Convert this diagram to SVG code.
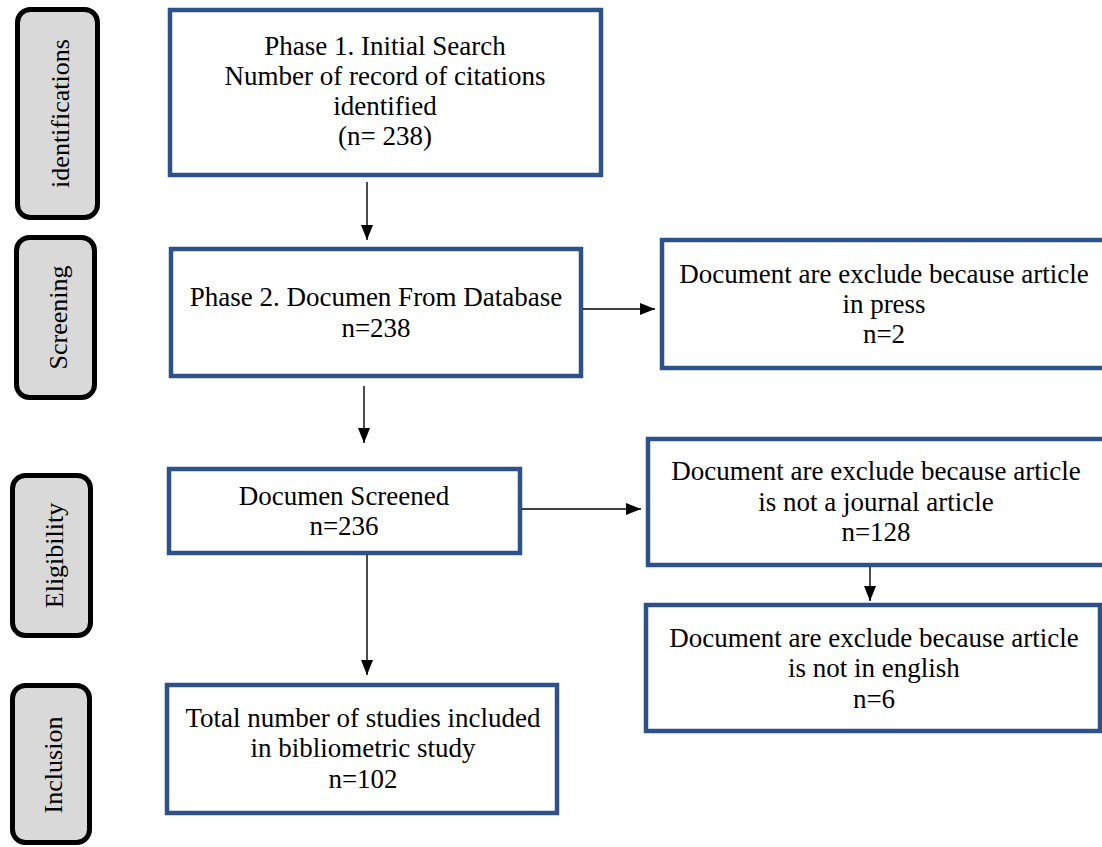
<svg xmlns="http://www.w3.org/2000/svg" width="1102" height="847" viewBox="0 0 1102 847">
<style>
  .tab { fill: #d9d9d9; stroke: #000; stroke-width: 5; }
  .box { fill: #fff; stroke: #2d5289; stroke-width: 4.5; }
  text { font-family: "Liberation Serif", "Times New Roman", serif; font-size: 27px; fill: #000; text-anchor: middle; }
  .tab-label { font-size: 26px; }
  .conn { stroke: #000; stroke-width: 1.4; fill: none; }
</style>
<defs>
  <marker id="arr" markerUnits="userSpaceOnUse" markerWidth="16" markerHeight="16" viewBox="0 0 16 16" refX="15" refY="8" orient="auto">
    <path d="M0,2 L15,8 L0,14 Z" fill="#000"/>
  </marker>
</defs>
<rect width="1102" height="847" fill="#fff"/>

<g id="tab-identifications">
  <rect class="tab" x="17.5" y="9.5" width="80" height="208" rx="13"/>
  <text class="tab-label" transform="translate(69,113.5) rotate(-90)">identifications</text>
</g>
<g id="tab-screening">
  <rect class="tab" x="16.5" y="237.5" width="78" height="160" rx="13"/>
  <text class="tab-label" transform="translate(67,317.5) rotate(-90)">Screening</text>
</g>
<g id="tab-eligibility">
  <rect class="tab" x="12.5" y="475.5" width="78" height="160" rx="13"/>
  <text class="tab-label" transform="translate(63,555.5) rotate(-90)">Eligibility</text>
</g>
<g id="tab-inclusion">
  <rect class="tab" x="12.5" y="685.5" width="77" height="157" rx="13"/>
  <text class="tab-label" transform="translate(62,765) rotate(-90)">Inclusion</text>
</g>

<g id="phase1">
  <rect class="box" x="170" y="10" width="431" height="165"/>
  <text x="385" y="55">Phase 1. Initial Search</text>
  <text x="385" y="85">Number of record of citations</text>
  <text x="385" y="115">identified</text>
  <text x="385" y="145">(n= 238)</text>
</g>
<g id="phase2">
  <rect class="box" x="171" y="249" width="410" height="127"/>
  <text x="376" y="306">Phase 2. Documen From Database</text>
  <text x="376" y="337">n=238</text>
</g>
<g id="screened">
  <rect class="box" x="169" y="469" width="351" height="84"/>
  <text x="344" y="505">Documen Screened</text>
  <text x="344" y="535">n=236</text>
</g>
<g id="included">
  <rect class="box" x="167" y="685" width="390" height="128"/>
  <text x="363" y="727">Total number of studies included</text>
  <text x="363" y="757">in bibliometric study</text>
  <text x="363" y="788">n=102</text>
</g>
<g id="excl-press">
  <rect class="box" x="662" y="240" width="450" height="128"/>
  <text x="884" y="283">Document are exclude because article</text>
  <text x="884" y="313">in press</text>
  <text x="884" y="343">n=2</text>
</g>
<g id="excl-journal">
  <rect class="box" x="648" y="439" width="460" height="126"/>
  <text x="876" y="480">Document are exclude because article</text>
  <text x="876" y="511">is not a journal article</text>
  <text x="876" y="541">n=128</text>
</g>
<g id="excl-english">
  <rect class="box" x="646" y="605" width="454" height="126"/>
  <text x="874" y="647">Document are exclude because article</text>
  <text x="874" y="677">is not in english</text>
  <text x="874" y="708">n=6</text>
</g>

<g id="connectors">
  <line class="conn" x1="367" y1="182" x2="367" y2="240" marker-end="url(#arr)"/>
  <line class="conn" x1="364" y1="386" x2="364" y2="443" marker-end="url(#arr)"/>
  <line class="conn" x1="367" y1="555" x2="367" y2="675" marker-end="url(#arr)"/>
  <line class="conn" x1="583" y1="309" x2="655" y2="309" marker-end="url(#arr)"/>
  <line class="conn" x1="522" y1="509" x2="641" y2="509" marker-end="url(#arr)"/>
  <line class="conn" x1="870" y1="567" x2="870" y2="601" marker-end="url(#arr)"/>
</g>
</svg>
